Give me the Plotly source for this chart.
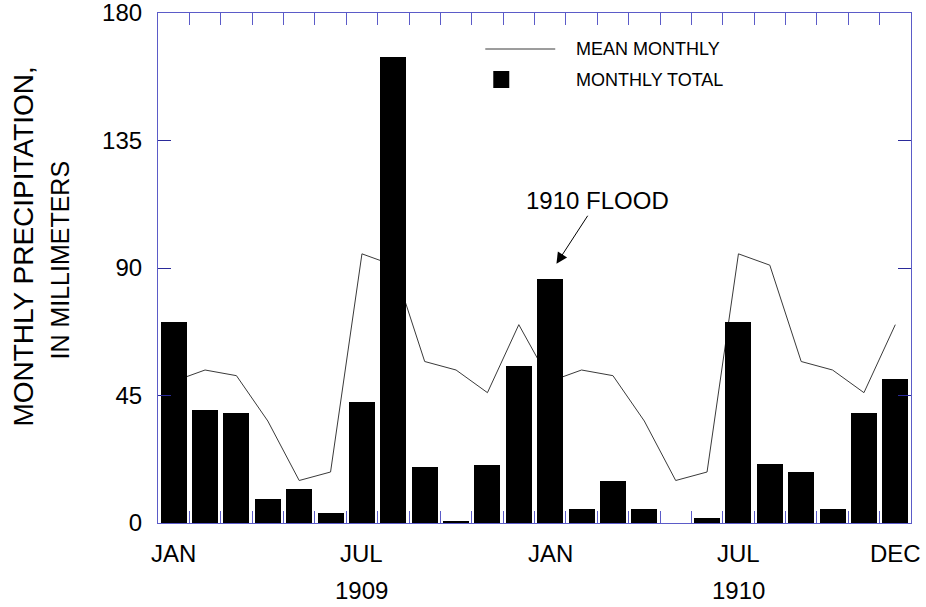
import plotly.graph_objects as go

months = ["JAN", "FEB", "MAR", "APR", "MAY", "JUN", "JUL", "AUG", "SEP", "OCT", "NOV", "DEC"] * 2
years = [1909] * 12 + [1910] * 12
monthly_total = [71, 40, 39, 8.5, 12, 3.7, 42.6, 164.4, 19.7, 0.5, 20.4, 55.4,
                 86, 4.8, 14.7, 4.8, 0, 1.8, 71, 20.9, 17.9, 4.8, 38.7, 50.7]
mean_monthly = [50, 54, 52, 36, 15, 18, 95, 91, 57, 54, 46, 70] * 2
y_ticks = [0, 45, 90, 135, 180]
x_label_idx = [0, 6, 12, 18, 23]
year_label_idx = {6: "1909", 18: "1910"}

idx = list(range(len(months)))
AX = "#5b5bc8"
FONT = "Liberation Sans, Arial, Helvetica, sans-serif"

L, R, T, B = 157.5, 15, 13, 84
pw = 926 - L - R
ph = 607 - T - B

fig = go.Figure()
fig.add_trace(go.Scatter(x=idx, y=mean_monthly, mode="lines", name="MEAN MONTHLY",
                         line=dict(color="#3a3a3a", width=1), xaxis="x", yaxis="y",
                         showlegend=False))
fig.add_trace(go.Bar(x=idx, y=monthly_total, name="MONTHLY TOTAL", width=0.83,
                     marker=dict(color="black", line=dict(width=0)),
                     xaxis="x", yaxis="y2", showlegend=False))

annotations = []
for i in x_label_idx:
    annotations.append(dict(x=i, y=0, xref="x", yref="y", yshift=-30, text=months[i],
                            showarrow=False, font=dict(size=24, family=FONT, color="black"),
                            xanchor="center", yanchor="middle"))
for i, t in year_label_idx.items():
    annotations.append(dict(x=i, y=0, xref="x", yref="y", yshift=-67, text=t,
                            showarrow=False, font=dict(size=24, family=FONT, color="black"),
                            xanchor="center", yanchor="middle"))
# y title (two lines)
annotations.append(dict(x=(22 - L) / pw, y=(523 - 247) / ph, xref="paper", yref="paper",
                        text="MONTHLY PRECIPITATION,", textangle=-90, showarrow=False,
                        xanchor="center", yanchor="middle",
                        font=dict(size=28, family=FONT, color="black")))
annotations.append(dict(x=(59 - L) / pw, y=(523 - 260) / ph, xref="paper", yref="paper",
                        text="IN MILLIMETERS", textangle=-90, showarrow=False,
                        xanchor="center", yanchor="middle",
                        font=dict(size=25, family=FONT, color="black")))
# flood annotation
annotations.append(dict(x=12.2, y=91.5, xref="x", yref="y", text="1910 FLOOD",
                        showarrow=True, arrowhead=2, arrowsize=2.2, arrowwidth=1,
                        arrowcolor="black", ax=41, ay=-63,
                        font=dict(size=24, family=FONT, color="black")))
# legend text
annotations.append(dict(x=(574 - L) / pw, y=(523 - 49) / ph, xref="paper", yref="paper",
                        text="MEAN MONTHLY", showarrow=False, xanchor="left", yanchor="middle",
                        font=dict(size=18, family=FONT, color="black")))
annotations.append(dict(x=(574 - L) / pw, y=(523 - 80) / ph, xref="paper", yref="paper",
                        text="MONTHLY TOTAL", showarrow=False, xanchor="left", yanchor="middle",
                        font=dict(size=18, family=FONT, color="black")))

shapes = [
    dict(type="line", xref="paper", yref="paper", x0=(485 - L) / pw, x1=(555 - L) / pw,
         y0=(523 - 49) / ph, y1=(523 - 49) / ph, line=dict(color="#3a3a3a", width=1)),
    dict(type="rect", xref="paper", yref="paper", x0=(493 - L) / pw, x1=(509 - L) / pw,
         y0=(523 - 88) / ph, y1=(523 - 71) / ph, fillcolor="black", line=dict(width=0)),
]

fig.update_layout(
    width=926, height=607,
    margin=dict(l=L, r=R, t=T, b=B, autoexpand=False),
    paper_bgcolor="white", plot_bgcolor="white",
    xaxis=dict(range=[-0.5, 23.5], tickvals=[i + 0.5 for i in range(23)],
               showticklabels=False, ticks="inside", ticklen=12, tickcolor=AX, tickwidth=1,
               showline=True, linecolor=AX, linewidth=1.2, mirror="ticks",
               showgrid=False, zeroline=False),
    yaxis=dict(range=[0, 180], tickvals=y_ticks, ticks="inside", ticklen=13, tickcolor="#2a2a9a",
               tickwidth=1, showline=True, linecolor=AX, linewidth=1.2, mirror="ticks",
               showgrid=False, zeroline=False, ticklabelstandoff=10,
               ticklabeloverflow="allow",
               tickfont=dict(size=24, family=FONT, color="black")),
    yaxis2=dict(range=[0, 180], overlaying="y", visible=False),
    annotations=annotations,
    shapes=shapes,
    showlegend=False,
    bargap=0,
)

fig.write_html("out.html", config={"displayModeBar": False},
               post_script="document.body.style.margin='0';")
